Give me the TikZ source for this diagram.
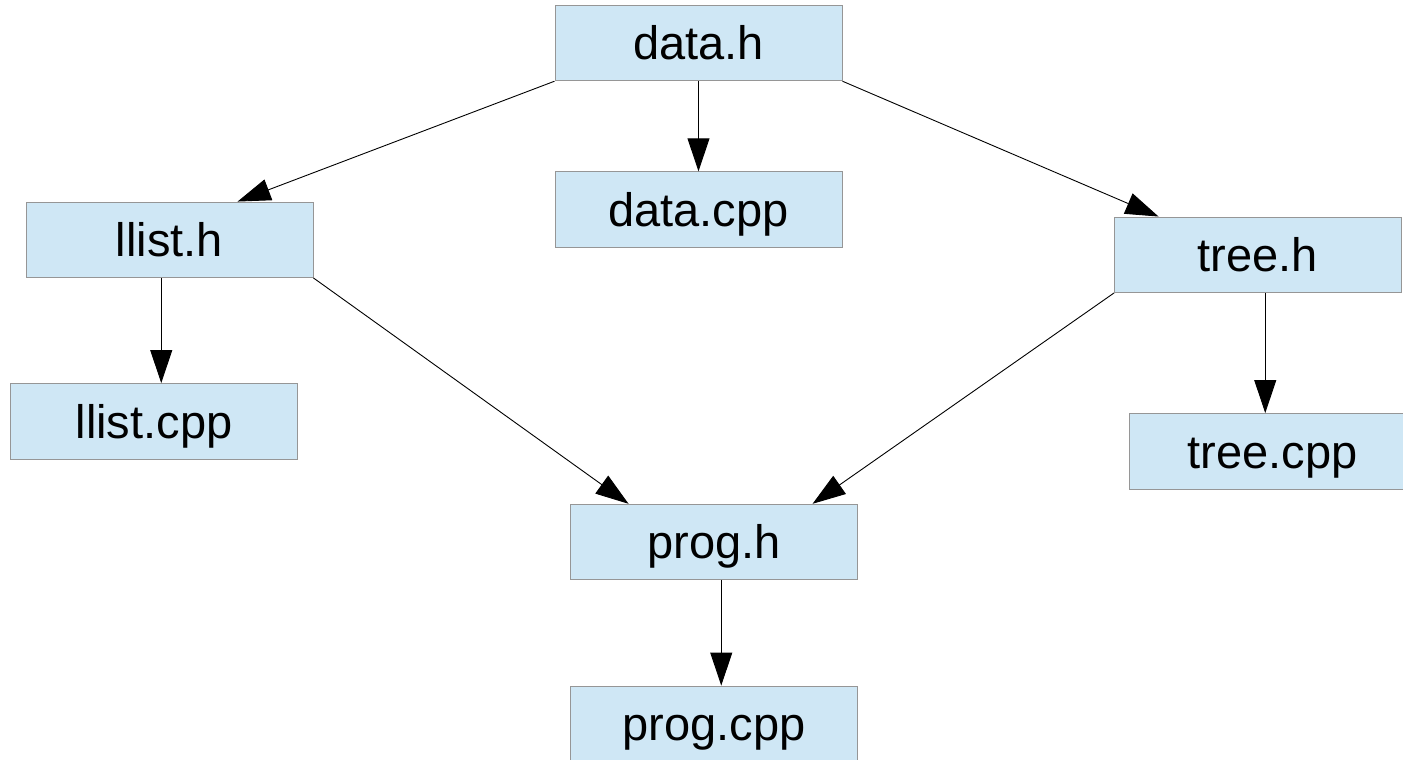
\documentclass[tikz,border=0pt]{standalone}
\usepackage{fontspec}
\setmainfont{Liberation Sans}
\usetikzlibrary{arrows.meta,calc}
\definecolor{boxfill}{RGB}{207,231,245}
\definecolor{boxline}{RGB}{150,150,150}
\tikzset{
  filebox/.style={draw=boxline, line width=0.9pt, fill=boxfill, minimum width=287pt, minimum height=75.5pt,
    inner sep=0pt, anchor=center, font=\fontsize{47}{52}\selectfont, text height=33.6pt, text depth=0pt},
  dep/.style={draw=black, line width=0.9pt, -{Triangle[length=33pt,width=22pt]}}
}
\begin{document}
\begin{tikzpicture}[x=1pt,y=-1pt]
\useasboundingbox (0,0) rectangle (1403,760);
\node[filebox] (dh) at (698.5,43) {data.h};
\node[filebox] (dc) at (698.5,209.5) {data.cpp};
\node[filebox] (lh) at (169.5,239.75) {llist.h};
\node[filebox] (lc) at (154,421.25) {llist.cpp};
\node[filebox] (th) at (1258,254.75) {tree.h};
\node[filebox] (tc) at (1272.5,451.25) {tree.cpp};
\node[filebox] (ph) at (714,542) {prog.h};
\node[filebox] (pc) at (714,723.75) {prog.cpp};
\draw[dep] (dh.south west) -- ($(lh.north west)+(212,0)$);
\draw[dep] (dh.south) -- (dc.north);
\draw[dep] (dh.south east) -- ($(th.north west)+(44.5,0)$);
\draw[dep] ($(lh.south west)+(135.7,0)$) -- ($(lc.north west)+(151.2,0)$);
\draw[dep] (lh.south east) -- ($(ph.north west)+(58.5,0)$);
\draw[dep] (th.south west) -- ($(ph.north west)+(242.5,0)$);
\draw[dep] ($(th.south west)+(151.2,0)$) -- ($(tc.north west)+(136.7,0)$);
\draw[dep] ($(ph.south west)+(151.2,0)$) -- ($(pc.north west)+(151.2,0)$);
\end{tikzpicture}
\end{document}
